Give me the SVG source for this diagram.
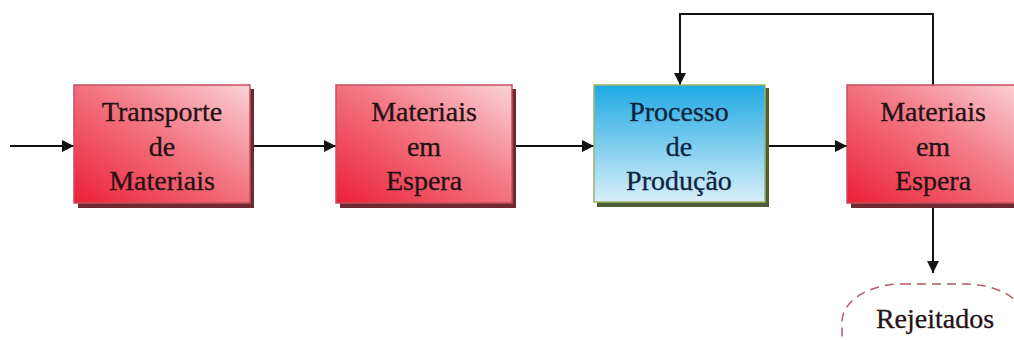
<svg xmlns="http://www.w3.org/2000/svg" width="1014" height="340" viewBox="0 0 1014 340">
  <defs>
    <linearGradient id="redFill" x1="0" y1="1" x2="1" y2="0">
      <stop offset="0" stop-color="#ec1f37"/>
      <stop offset="0.55" stop-color="#f37885"/>
      <stop offset="1" stop-color="#fbd3d7"/>
    </linearGradient>
    <linearGradient id="blueFill" x1="0" y1="0" x2="0" y2="1">
      <stop offset="0" stop-color="#1ea9e3"/>
      <stop offset="1" stop-color="#d9eff9"/>
    </linearGradient>
    <marker id="arrow" viewBox="0 0 12 12" refX="12" refY="6" markerWidth="12" markerHeight="12" markerUnits="userSpaceOnUse" orient="auto">
      <path d="M0,0 L12,6 L0,12 Z" fill="#111"/>
    </marker>
    <style>
      .shadowRed { fill: #6e2a30; }
      .shadowBlue { fill: #4f5e3a; }
      .boxRed { fill: url(#redFill); stroke: #c5505c; stroke-width: 1.5; }
      .boxBlue { fill: url(#blueFill); stroke: #9cb46a; stroke-width: 1.5; }
      .label { font-family: "Liberation Serif", "Times New Roman", serif; font-size: 28px; text-anchor: middle; fill: #241214; stroke: #241214; stroke-width: 0.3; }
      .labelBlue { fill: #0d2440; stroke: #0d2440; }
      .link { fill: none; stroke: #111; stroke-width: 2; }
    </style>
  </defs>

  <!-- connectors -->
  <g id="connectors">
    <line class="link" x1="10" y1="146" x2="74" y2="146" marker-end="url(#arrow)"/>
    <line class="link" x1="252" y1="146" x2="336" y2="146" marker-end="url(#arrow)"/>
    <line class="link" x1="514" y1="146" x2="594" y2="146" marker-end="url(#arrow)"/>
    <line class="link" x1="767" y1="146" x2="847" y2="146" marker-end="url(#arrow)"/>
    <polyline class="link" points="933,85 933,14 680,14 680,85" marker-end="url(#arrow)"/>
    <line class="link" x1="933" y1="205" x2="933" y2="273" marker-end="url(#arrow)"/>
  </g>

  <!-- Transporte de Materiais -->
  <g id="transporte">
    <rect class="shadowRed" x="78" y="89" width="176" height="119"/>
    <rect class="boxRed" x="74" y="85" width="176" height="118"/>
    <text class="label" x="162" y="121">Transporte</text>
    <text class="label" x="162" y="156">de</text>
    <text class="label" x="162" y="190">Materiais</text>
  </g>

  <!-- Materiais em Espera (1) -->
  <g id="espera1">
    <rect class="shadowRed" x="340" y="89" width="176" height="119"/>
    <rect class="boxRed" x="336" y="85" width="176" height="118"/>
    <text class="label" x="424" y="121">Materiais</text>
    <text class="label" x="424" y="156">em</text>
    <text class="label" x="424" y="190">Espera</text>
  </g>

  <!-- Processo de Produção -->
  <g id="processo">
    <rect class="shadowBlue" x="597" y="88" width="172" height="119"/>
    <rect class="boxBlue" x="594" y="85" width="171" height="117"/>
    <text class="label labelBlue" x="679" y="121">Processo</text>
    <text class="label labelBlue" x="679" y="156">de</text>
    <text class="label labelBlue" x="679" y="190">Produção</text>
  </g>

  <!-- Materiais em Espera (2) -->
  <g id="espera2">
    <rect class="shadowRed" x="851" y="89" width="176" height="119"/>
    <rect class="boxRed" x="847" y="85" width="176" height="118"/>
    <text class="label" x="933" y="121">Materiais</text>
    <text class="label" x="933" y="156">em</text>
    <text class="label" x="933" y="190">Espera</text>
  </g>

  <!-- Rejeitados -->
  <g id="rejeitados">
    <rect x="842" y="284" width="184" height="90" rx="60" ry="38" fill="#fff" stroke="#b35a66" stroke-width="1.5" stroke-dasharray="9,6"/>
    <text class="label" x="935" y="328">Rejeitados</text>
  </g>
</svg>
